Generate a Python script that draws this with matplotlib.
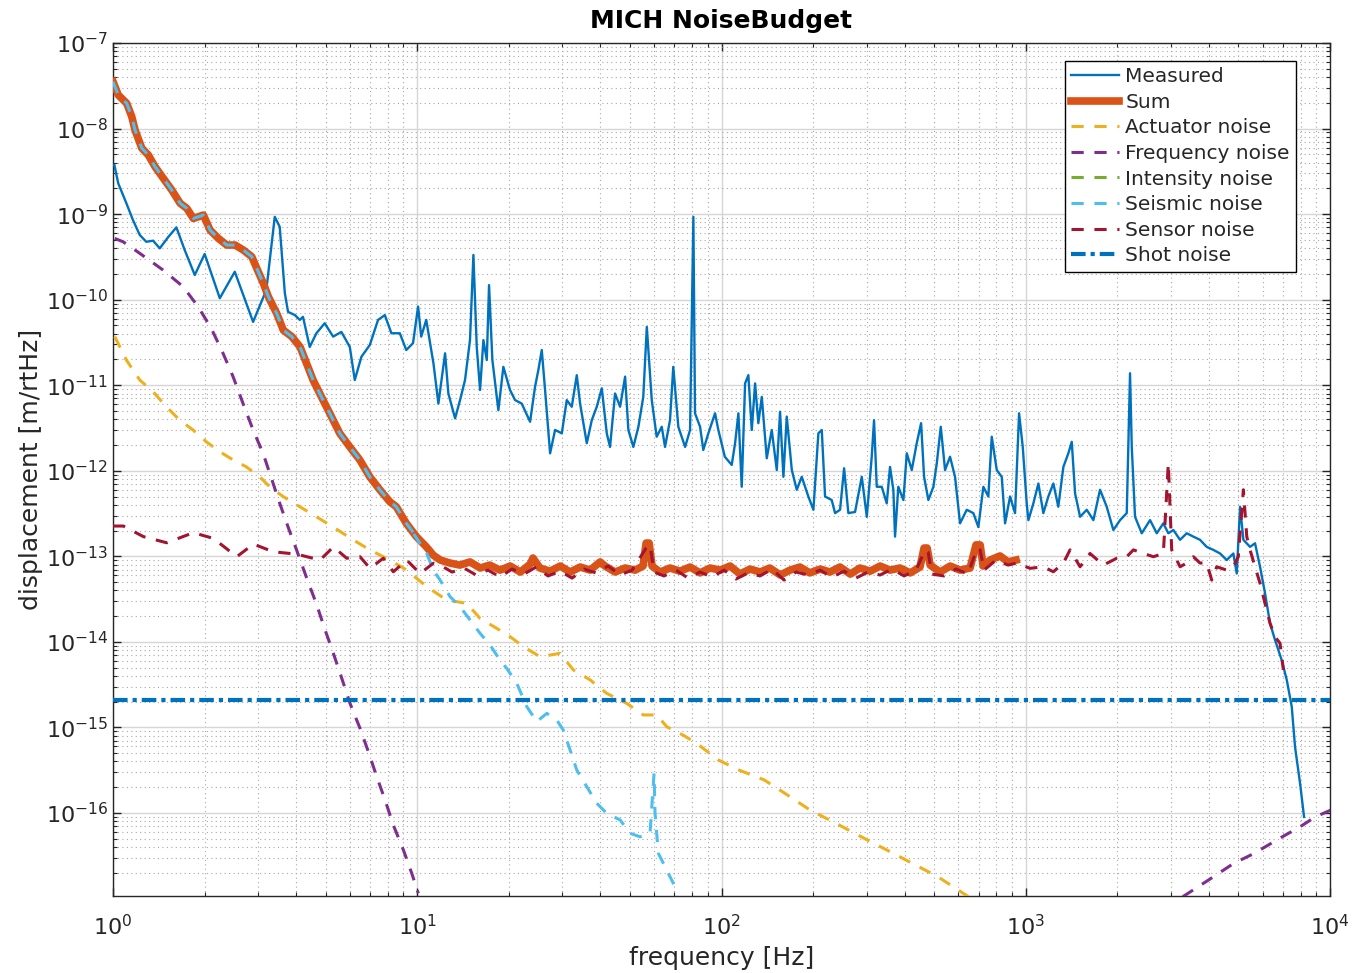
import numpy as np
import matplotlib
matplotlib.use("Agg")
import matplotlib.pyplot as plt
from matplotlib.ticker import LogLocator, NullFormatter

# MATLAB default line colours
c_meas = "#0072BD"
c_sum = "#D95319"
c_act = "#EDB120"
c_freq = "#7E2F8E"
c_int = "#77AC30"
c_seis = "#4DBEEE"
c_sens = "#A2142F"

# ---- Measured spectrum [Hz], [m/rtHz] ----
meas_f = [1.01, 1.04, 1.106, 1.163, 1.224, 1.286, 1.354, 1.424, 1.516, 1.615, 1.72, 1.856, 2.0, 2.243,
          2.512, 2.886, 3.19, 3.40, 3.53, 3.67, 3.76, 3.96, 4.11, 4.21, 4.43, 4.66, 4.96, 5.29, 5.63,
          6.0, 6.23, 6.55, 6.98, 7.43, 7.82, 8.22, 8.76, 9.2, 9.68, 10.06, 10.3, 10.7, 11.3,
          11.73, 12.34, 12.65, 13.31, 13.82, 14.35, 14.9, 15.29, 15.68, 16.08, 16.49, 16.92, 17.21,
          17.65, 18.47, 19.18, 20.17, 20.96, 22.04, 23.48, 24.38, 25.0, 25.65, 26.3, 27.32, 28.37,
          29.85, 30.99, 32.19, 33.43, 34.28, 36.06, 37.45, 38.89, 40.4, 41.95, 43.0, 44.67, 46.4,
          48.2, 49.4, 51.3, 53.3, 55.3, 56.8, 58.97, 61.2, 63.6, 65.2, 67.7, 69.4, 72.1, 75.9, 78.8,
          79.8, 80.8, 81.8, 85.0, 87.1, 90.5, 95.2, 97.6,
          102.5, 108, 110.8, 113.6, 116.5, 119.5, 122.5, 125.7, 128.9, 132.1, 135.6, 140.8, 146.2,
          151.9, 155.7, 159.7, 163.8, 170.2, 176.7, 183.5, 192.9, 200.4, 208.1, 213.5, 218.9, 230.2,
          236.1, 245.2, 252.8, 261.1, 274.7, 289, 300.2, 311.6, 317.1, 323.7, 336.2, 349.1, 357.9,
          367, 371.7, 381.1, 396, 406.3, 421.9, 438.1, 452.8, 463.1, 478.4, 496.9, 509.8, 525.5,
          542.8, 563.7, 585.4, 608, 639.6, 672.4, 698.4, 725.3, 753.2, 772.9, 802.7, 833.6, 854.8,
          887.8, 921.9, 950.4, 977.3, 1007,
          1020, 1059, 1100, 1142, 1186, 1232, 1279, 1329, 1380, 1416, 1452, 1508, 1586, 1668, 1754,
          1845, 1940, 2041, 2147, 2201, 2230, 2286, 2405, 2561, 2695, 2832, 2941, 3055, 3214, 3381,
          3554, 3738, 3932, 4134, 4350, 4575, 4811, 4936, 5062, 5190, 5459, 5669, 5888, 6114, 6350,
          6596, 6939, 7206, 7484, 7674, 7971, 8215]
meas_v = [3.75e-9, 2.29e-9, 1.34e-9, 8.5e-10, 5.7e-10, 4.75e-10, 4.89e-10, 3.98e-10, 5.36e-10, 7.0e-10,
          3.8e-10, 1.94e-10, 3.42e-10, 1.04e-10, 2.12e-10, 5.5e-11, 1.30e-10, 9.3e-10, 7.1e-10,
          1.19e-10, 7.2e-11, 6.6e-11, 5.8e-11, 6.3e-11, 2.8e-11, 4.05e-11, 5.3e-11, 3.7e-11, 4.2e-11,
          2.8e-11, 1.15e-11, 2.15e-11, 2.95e-11, 5.8e-11, 6.6e-11, 4.05e-11, 4.05e-11, 2.58e-11,
          3.1e-11, 8.3e-11, 3.7e-11, 5.8e-11, 1.8e-11,
          6.1e-12, 2.36e-11, 8.0e-12, 4.1e-12, 6.7e-12, 1.15e-11, 3.37e-11, 3.33e-10, 2.8e-11,
          8.8e-12, 3.37e-11, 1.97e-11, 1.48e-10, 1.97e-11, 5.1e-12, 1.64e-11, 8.8e-12, 6.7e-12,
          6.1e-12, 3.74e-12, 9.6e-12, 1.51e-11, 2.58e-11, 8.8e-12, 1.6e-12, 3.0e-12, 2.74e-12,
          6.7e-12, 5.6e-12, 1.31e-11, 6.1e-12, 2.1e-12, 3.9e-12, 5.6e-12, 9.2e-12, 2.74e-12, 1.9e-12,
          8.0e-12, 5.6e-12, 1.26e-11, 3.0e-12, 1.9e-12, 3.27e-12, 7.3e-12, 4.8e-11, 6.7e-12, 2.5e-12,
          3.27e-12, 1.9e-12, 3.9e-12, 1.64e-11, 3.27e-12, 1.9e-12, 3.0e-12, 5.3e-11, 9.3e-10, 4.7e-12,
          3.27e-12, 1.75e-12, 2.74e-12, 4.7e-12, 3.0e-12,
          1.46e-12, 1.17e-12, 2.1e-12, 4.7e-12, 6.5e-13, 1.05e-11, 1.31e-11, 3.0e-12, 1.05e-11,
          3.6e-12, 7.3e-12, 1.4e-12, 3.0e-12, 1.02e-12, 4.9e-12, 8.5e-13, 4.3e-12, 1.02e-12, 6.0e-13,
          8.5e-13, 5.0e-13, 3.5e-13, 2.74e-12, 3.0e-12, 5.0e-13, 4.55e-13, 3.2e-13, 3.5e-13, 1.07e-12,
          3.2e-13, 3.3e-13, 8.5e-13, 2.9e-13, 1.46e-12, 3.9e-12, 6.5e-13, 6.5e-13, 4.16e-13, 1.11e-12,
          6.0e-13, 1.7e-13, 6.5e-13, 4.55e-13, 1.6e-12, 1.02e-12, 2.1e-12, 3.6e-12, 8.5e-13, 4.55e-13,
          6.5e-13, 1.22e-12, 3.27e-12, 1.02e-12, 1.46e-12, 8.5e-13, 2.43e-13, 3.5e-13, 3.2e-13,
          2.2e-13, 6.5e-13, 5.0e-13, 2.5e-12, 1.02e-12, 8.5e-13, 2.43e-13, 5.0e-13, 3.2e-13, 4.7e-12,
          1.9e-12, 4.16e-13,
          2.65e-13, 4.16e-13, 7.1e-13, 3.2e-13, 5.0e-13, 7.1e-13, 3.8e-13, 1.11e-12, 1.6e-12, 2.18e-12,
          5.45e-13, 2.9e-13, 3.5e-13, 2.65e-13, 6.0e-13, 3.8e-13, 2.03e-13, 2.65e-13, 3.2e-13, 1.38e-11,
          1.9e-12, 2.9e-13, 1.86e-13, 2.65e-13, 1.86e-13, 2.43e-13, 1.86e-13, 2.03e-13, 1.56e-13,
          1.86e-13, 1.7e-13, 1.56e-13, 1.29e-13, 1.19e-13, 1.08e-13, 9.05e-14, 1.08e-13, 6.3e-14,
          3.8e-13, 1.56e-13, 1.29e-13, 1.42e-13, 7.55e-14, 3.7e-14, 1.65e-14, 1.05e-14, 6.1e-15,
          3.6e-15, 1.75e-15, 5.9e-16, 2.22e-16, 9.0e-17]

# ---- Sum and seismic overlap below ~10 Hz ----
low_f = [1.0, 1.04, 1.109, 1.152, 1.181, 1.243, 1.306, 1.374, 1.463, 1.56, 1.661, 1.747, 1.836, 1.981,
         2.084, 2.219, 2.364, 2.518, 2.681, 2.857, 2.968, 3.119, 3.24, 3.451, 3.628, 3.868, 4.119,
         4.544, 4.90, 5.155, 5.56, 6.0, 6.47, 6.98, 7.53, 8.12, 8.53, 9.2, 9.93]
low_v = [3.53e-8, 2.47e-8, 1.97e-8, 1.38e-8, 9.6e-9, 5.9e-9, 4.9e-9, 3.58e-9, 2.62e-9, 1.91e-9,
         1.34e-9, 1.17e-9, 8.9e-10, 9.75e-10, 6.5e-10, 5.2e-10, 4.35e-10, 4.35e-10, 3.8e-10, 3.18e-10,
         2.32e-10, 1.55e-10, 1.08e-10, 6.9e-11, 4.4e-11, 3.7e-11, 2.8e-11, 1.15e-11, 6.7e-12, 4.7e-12,
         2.74e-12, 1.9e-12, 1.34e-12, 8.5e-13, 6.0e-13, 4.35e-13, 3.8e-13, 2.43e-13, 1.7e-13]

# ---- Sum above 10 Hz ----
sum_f = [10.71, 11.29, 11.9, 12.8, 13.8, 14.9, 16.1, 17.3, 18.7, 20.2, 21.8, 23.5, 24.0, 25.3, 27.3,
         29.5, 31.8, 34.3, 37.0, 39.9, 41.4, 44.7, 48.2, 52.0, 55.2, 56.5, 57.8, 59.1, 62.8, 67.7,
         73.0, 78.8, 85.0, 91.7, 98.9, 106.7, 115, 124, 134, 144, 156, 168, 181, 195, 211, 227, 245,
         265, 285, 308, 332, 358, 386, 417, 449, 463, 474, 485, 523, 564, 608, 656, 686, 708, 724,
         763, 823, 875, 929]
sum_v = [1.29e-13, 1.03e-13, 9.05e-14, 8.35e-14, 7.9e-14, 8.6e-14, 7.3e-14, 7.9e-14, 6.9e-14, 7.7e-14,
         6.55e-14, 8.1e-14, 9.55e-14, 7.3e-14, 6.7e-14, 7.7e-14, 6.55e-14, 7.5e-14, 6.9e-14, 8.6e-14,
         7.7e-14, 6.55e-14, 7.3e-14, 6.9e-14, 7.7e-14, 1.43e-13, 1.43e-13, 7.7e-14, 6.55e-14, 7.3e-14,
         6.7e-14, 7.5e-14, 6.4e-14, 7.3e-14, 6.9e-14, 7.7e-14, 6.2e-14, 7.1e-14, 6.55e-14, 7.3e-14,
         6.05e-14, 6.9e-14, 7.5e-14, 6.4e-14, 7.1e-14, 6.55e-14, 7.5e-14, 6.2e-14, 7.3e-14, 6.7e-14,
         7.7e-14, 6.9e-14, 7.3e-14, 6.4e-14, 7.5e-14, 1.25e-13, 1.25e-13, 7.9e-14, 6.55e-14, 7.7e-14,
         6.9e-14, 7.3e-14, 1.36e-13, 1.36e-13, 7.7e-14, 9.05e-14, 1.01e-13, 8.6e-14, 9.05e-14]

# ---- Seismic above 10 Hz ----
seis_f = [9.70, 10.74, 11.29, 11.88, 12.82, 13.82, 14.91, 16.08, 17.34, 18.71, 19.68, 21.23, 22.9,
          24.7, 26.65, 28.73, 30.2, 31.78, 33.43, 36.06, 38.89, 41.95, 46.4, 50.0, 53.95, 58.2, 60.0,
          60.45, 62.0, 66.06, 70.34]
seis_v = [1.86e-13, 1.08e-13, 6.9e-14, 5.28e-14, 3.37e-14, 2.58e-14, 1.8e-14, 1.26e-14, 9.2e-15,
          6.1e-15, 4.9e-15, 3.28e-15, 1.75e-15, 1.17e-15, 1.46e-15, 1.22e-15, 9.3e-16, 5.45e-16,
          3.18e-16, 2.03e-16, 1.3e-16, 9.9e-17, 8.3e-17, 5.8e-17, 5.27e-17, 5.8e-17, 2.9e-16, 9.9e-17,
          3.37e-17, 2.15e-17, 1.37e-17]

# ---- Actuator noise ----
act_f = [1.013, 1.106, 1.224, 1.354, 1.497, 1.657, 1.832, 2.026, 2.243, 2.48, 2.743, 3.035, 3.273,
         3.622, 4.11, 4.66, 5.29, 6.15, 6.98, 8.12, 9.23, 10.74, 12.5, 14.54, 16.08, 18.24, 20.18,
         22.33, 25.33, 29.46, 32.58, 36.97, 41.95, 48.8, 55.3, 61.2, 66.06, 74.9, 82.9, 97.7, 114,
         138.2, 161.4, 195.6, 237.3, 287.9, 349.1, 423.6, 513.8, 647.9]
act_v = [3.7e-11, 1.97e-11, 1.15e-11, 8.4e-12, 5.6e-12, 3.9e-12, 3.0e-12, 2.18e-12, 1.67e-12, 1.34e-12,
         1.11e-12, 8.5e-13, 6.5e-13, 5.0e-13, 3.8e-13, 2.9e-13, 2.2e-13, 1.56e-13, 1.19e-13, 9.05e-14,
         6.9e-14, 4.42e-14, 3.08e-14, 2.82e-14, 1.88e-14, 1.44e-14, 1.15e-14, 8.8e-15, 6.7e-15,
         7.35e-15, 4.7e-15, 3.6e-15, 2.5e-15, 1.91e-15, 1.4e-15, 1.4e-15, 1.02e-15, 8.1e-16, 6.5e-16,
         4.16e-16, 3.18e-16, 2.43e-16, 1.7e-16, 1.08e-16, 7.6e-17, 5.27e-17, 3.7e-17, 2.58e-17,
         1.8e-17, 1.05e-17]

# ---- Frequency noise (low and high frequency branches) ----
freq_lo_f = [1.013, 1.079, 1.224, 1.46, 1.699, 1.903, 2.104, 2.299, 2.48, 2.675, 2.886, 3.112, 3.314,
             3.531, 3.761, 4.01, 4.333, 4.673, 4.976, 5.298, 5.646, 6.01, 6.483, 6.905, 7.358, 7.834,
             8.343, 9.0, 9.59, 10.08]
freq_lo_v = [5.2e-10, 4.75e-10, 3.48e-10, 2.22e-10, 1.42e-10, 8.3e-11, 4.6e-11, 2.36e-11, 1.26e-11,
             6.1e-12, 3.0e-12, 1.6e-12, 8.2e-13, 4.16e-13, 2.2e-13, 1.19e-13, 5.53e-14, 2.7e-14,
             1.38e-14, 7.35e-15, 3.75e-15, 1.91e-15, 9.75e-16, 5.2e-16, 2.65e-16, 1.42e-16, 7.2e-17,
             3.7e-17, 1.97e-17, 1.15e-17]
freq_hi_f = [3281, 3979, 4826, 5631, 6830, 7970, 8946, 10046]
freq_hi_v = [1.05e-17, 1.64e-17, 2.58e-17, 3.37e-17, 5.06e-17, 6.9e-17, 9.0e-17, 1.08e-16]

# ---- Sensor noise ----
sens_f = [1.0, 1.081, 1.258, 1.501, 1.836, 2.137, 2.551, 2.892, 3.365, 4.016, 4.79, 5.30, 5.86, 6.48,
          6.99, 7.73, 8.34, 9.23, 10.21, 11.29,
          11.88, 13.01, 14.24, 15.6, 17.08, 18.71, 20.48, 22.43, 24.57, 26.9, 29.46, 32.26, 35.33,
          38.69, 42.36, 46.4, 50.8, 56.5, 58.2, 60.0, 64.7, 70.9, 77.6, 85.0, 93.1, 101.9, 111.6,
          122.2, 133.8, 146.6, 160.5, 175.8, 192.4, 210.8, 230.7, 252.7, 276.7, 302.9, 331.9, 363.4,
          398.1, 435.8, 466.6, 477.3, 491.9, 538.6, 589.8, 645.9, 691.7, 707.5, 729.2, 798.6, 874.5,
          933.9, 1033, 1142, 1232, 1329, 1398, 1508, 1626, 1798, 1991, 2147, 2258, 2435, 2627, 2832,
          2941, 3017, 3214, 3381, 3554, 3738, 3932, 4084, 4243, 4575, 4811, 4995, 5190, 5325, 5459,
          5669, 5888, 6114, 6350, 6596, 6850, 7025]
sens_v = [2.26e-13, 2.26e-13, 1.7e-13, 1.44e-13, 1.89e-13, 1.62e-13, 9.9e-14, 1.39e-13, 1.13e-13,
          1.06e-13, 9.05e-14, 1.29e-13, 9.5e-14, 9.9e-14, 7.24e-14, 9.5e-14, 6.6e-14, 9.05e-14,
          6.3e-14, 8.3e-14,
          7.9e-14, 6.55e-14, 7.3e-14, 6.05e-14, 6.9e-14, 5.73e-14, 7.1e-14, 6.2e-14, 7.5e-14, 5.9e-14,
          6.7e-14, 5.57e-14, 7.1e-14, 6.4e-14, 7.7e-14, 6.05e-14, 6.9e-14, 1.25e-13, 1.36e-13,
          6.55e-14, 5.9e-14, 6.9e-14, 5.57e-14, 6.55e-14, 5.73e-14, 6.9e-14, 5.43e-14, 6.4e-14,
          5.9e-14, 7.1e-14, 5.28e-14, 6.55e-14, 6.05e-14, 6.9e-14, 5.73e-14, 6.7e-14, 5.57e-14,
          6.55e-14, 6.05e-14, 7.1e-14, 5.9e-14, 6.9e-14, 1.19e-13, 1.12e-13, 6.2e-14, 5.9e-14,
          7.1e-14, 6.2e-14, 1.25e-13, 1.19e-13, 6.9e-14, 9.05e-14, 7.9e-14,
          8.35e-14, 7.24e-14, 7.55e-14, 6.6e-14, 8.35e-14, 1.19e-13, 7.55e-14, 1.08e-13, 7.9e-14,
          9.5e-14, 9.9e-14, 1.19e-13, 1.08e-13, 9.9e-14, 1.08e-13, 1.22e-12, 1.19e-13, 7.55e-14,
          8.35e-14, 9.9e-14, 8.35e-14, 8.35e-14, 5.28e-14, 7.55e-14, 6.9e-14, 7.55e-14, 9.9e-14,
          6.0e-13, 1.7e-13, 1.19e-13, 7.55e-14, 4.83e-14, 2.82e-14, 1.65e-14, 1.15e-14, 9.6e-15,
          4.7e-15]

# ---- Shot noise (flat) ----
shot_f = [1, 1e4]
shot_v = [2.1e-15, 2.1e-15]

fig = plt.figure(figsize=(13.54, 9.73), dpi=100)
ax = fig.add_axes([0.0835, 0.0791, 0.8988, 0.8767])

dash = (4, 3.5)
ax.plot(meas_f, meas_v, color=c_meas, lw=1.7, label="Measured", zorder=3)
ax.plot(low_f + sum_f, low_v + sum_v, color=c_sum, lw=5.5, label="Sum", zorder=3)
ax.plot(act_f, act_v, color=c_act, lw=2.2, dashes=dash, label="Actuator noise", zorder=4)
ax.plot(freq_lo_f, freq_lo_v, color=c_freq, lw=2.2, dashes=dash, label="Frequency noise", zorder=4)
ax.plot(freq_hi_f, freq_hi_v, color=c_freq, lw=2.2, dashes=dash, zorder=4)
ax.plot([], [], color=c_int, lw=2.2, dashes=dash, label="Intensity noise")
ax.plot(low_f + seis_f, low_v + seis_v, color=c_seis, lw=2.2, dashes=dash, label="Seismic noise", zorder=4)
ax.plot(sens_f, sens_v, color=c_sens, lw=2.2, dashes=dash, label="Sensor noise", zorder=4)
ax.plot(shot_f, shot_v, color=c_meas, lw=3, dashes=(3.5, 1.2, 1, 1.2), label="Shot noise", zorder=4)

ax.set_xscale("log")
ax.set_yscale("log")
ax.set_xlim(1, 1e4)
ax.set_ylim(1.07e-17, 1e-7)

ax.xaxis.set_major_locator(LogLocator(base=10, numticks=20))
ax.yaxis.set_major_locator(LogLocator(base=10, numticks=20))
ax.xaxis.set_minor_locator(LogLocator(base=10, subs=np.arange(2, 10), numticks=100))
ax.yaxis.set_minor_locator(LogLocator(base=10, subs=np.arange(2, 10), numticks=100))
ax.xaxis.set_minor_formatter(NullFormatter())
ax.yaxis.set_minor_formatter(NullFormatter())

ax.grid(which="major", color="#d6d6d6", lw=1.0, ls="-")
ax.grid(which="minor", color="#a8a8a8", lw=0.8, ls=(0, (1, 3)))
ax.set_axisbelow(True)

dark = "#262626"
ax.tick_params(which="both", direction="in", top=True, right=True, colors=dark, labelsize=16)
ax.tick_params(which="major", length=6, width=1)
ax.tick_params(which="minor", length=3, width=0.8)
ax.tick_params(axis="x", which="major", pad=13)
for sp in ax.spines.values():
    sp.set_color(dark)
    sp.set_linewidth(1)

ax.set_xlabel("frequency [Hz]", fontsize=18, color=dark, labelpad=5)
ax.set_ylabel("displacement [m/rtHz]", fontsize=18, color=dark, labelpad=2)
ax.set_title("MICH NoiseBudget", fontsize=18, fontweight="bold", color="black", pad=11)

leg = ax.legend(loc="upper right", bbox_to_anchor=(0.972, 0.979), fontsize=14.5, frameon=True,
                fancybox=False, framealpha=1, edgecolor="black", borderpad=0.3,
                handlelength=2.4, handletextpad=0.3, labelspacing=0.33, borderaxespad=0)
leg.get_frame().set_linewidth(1)
for t in leg.get_texts():
    t.set_color(dark)

fig.savefig("out.png", dpi=100)
